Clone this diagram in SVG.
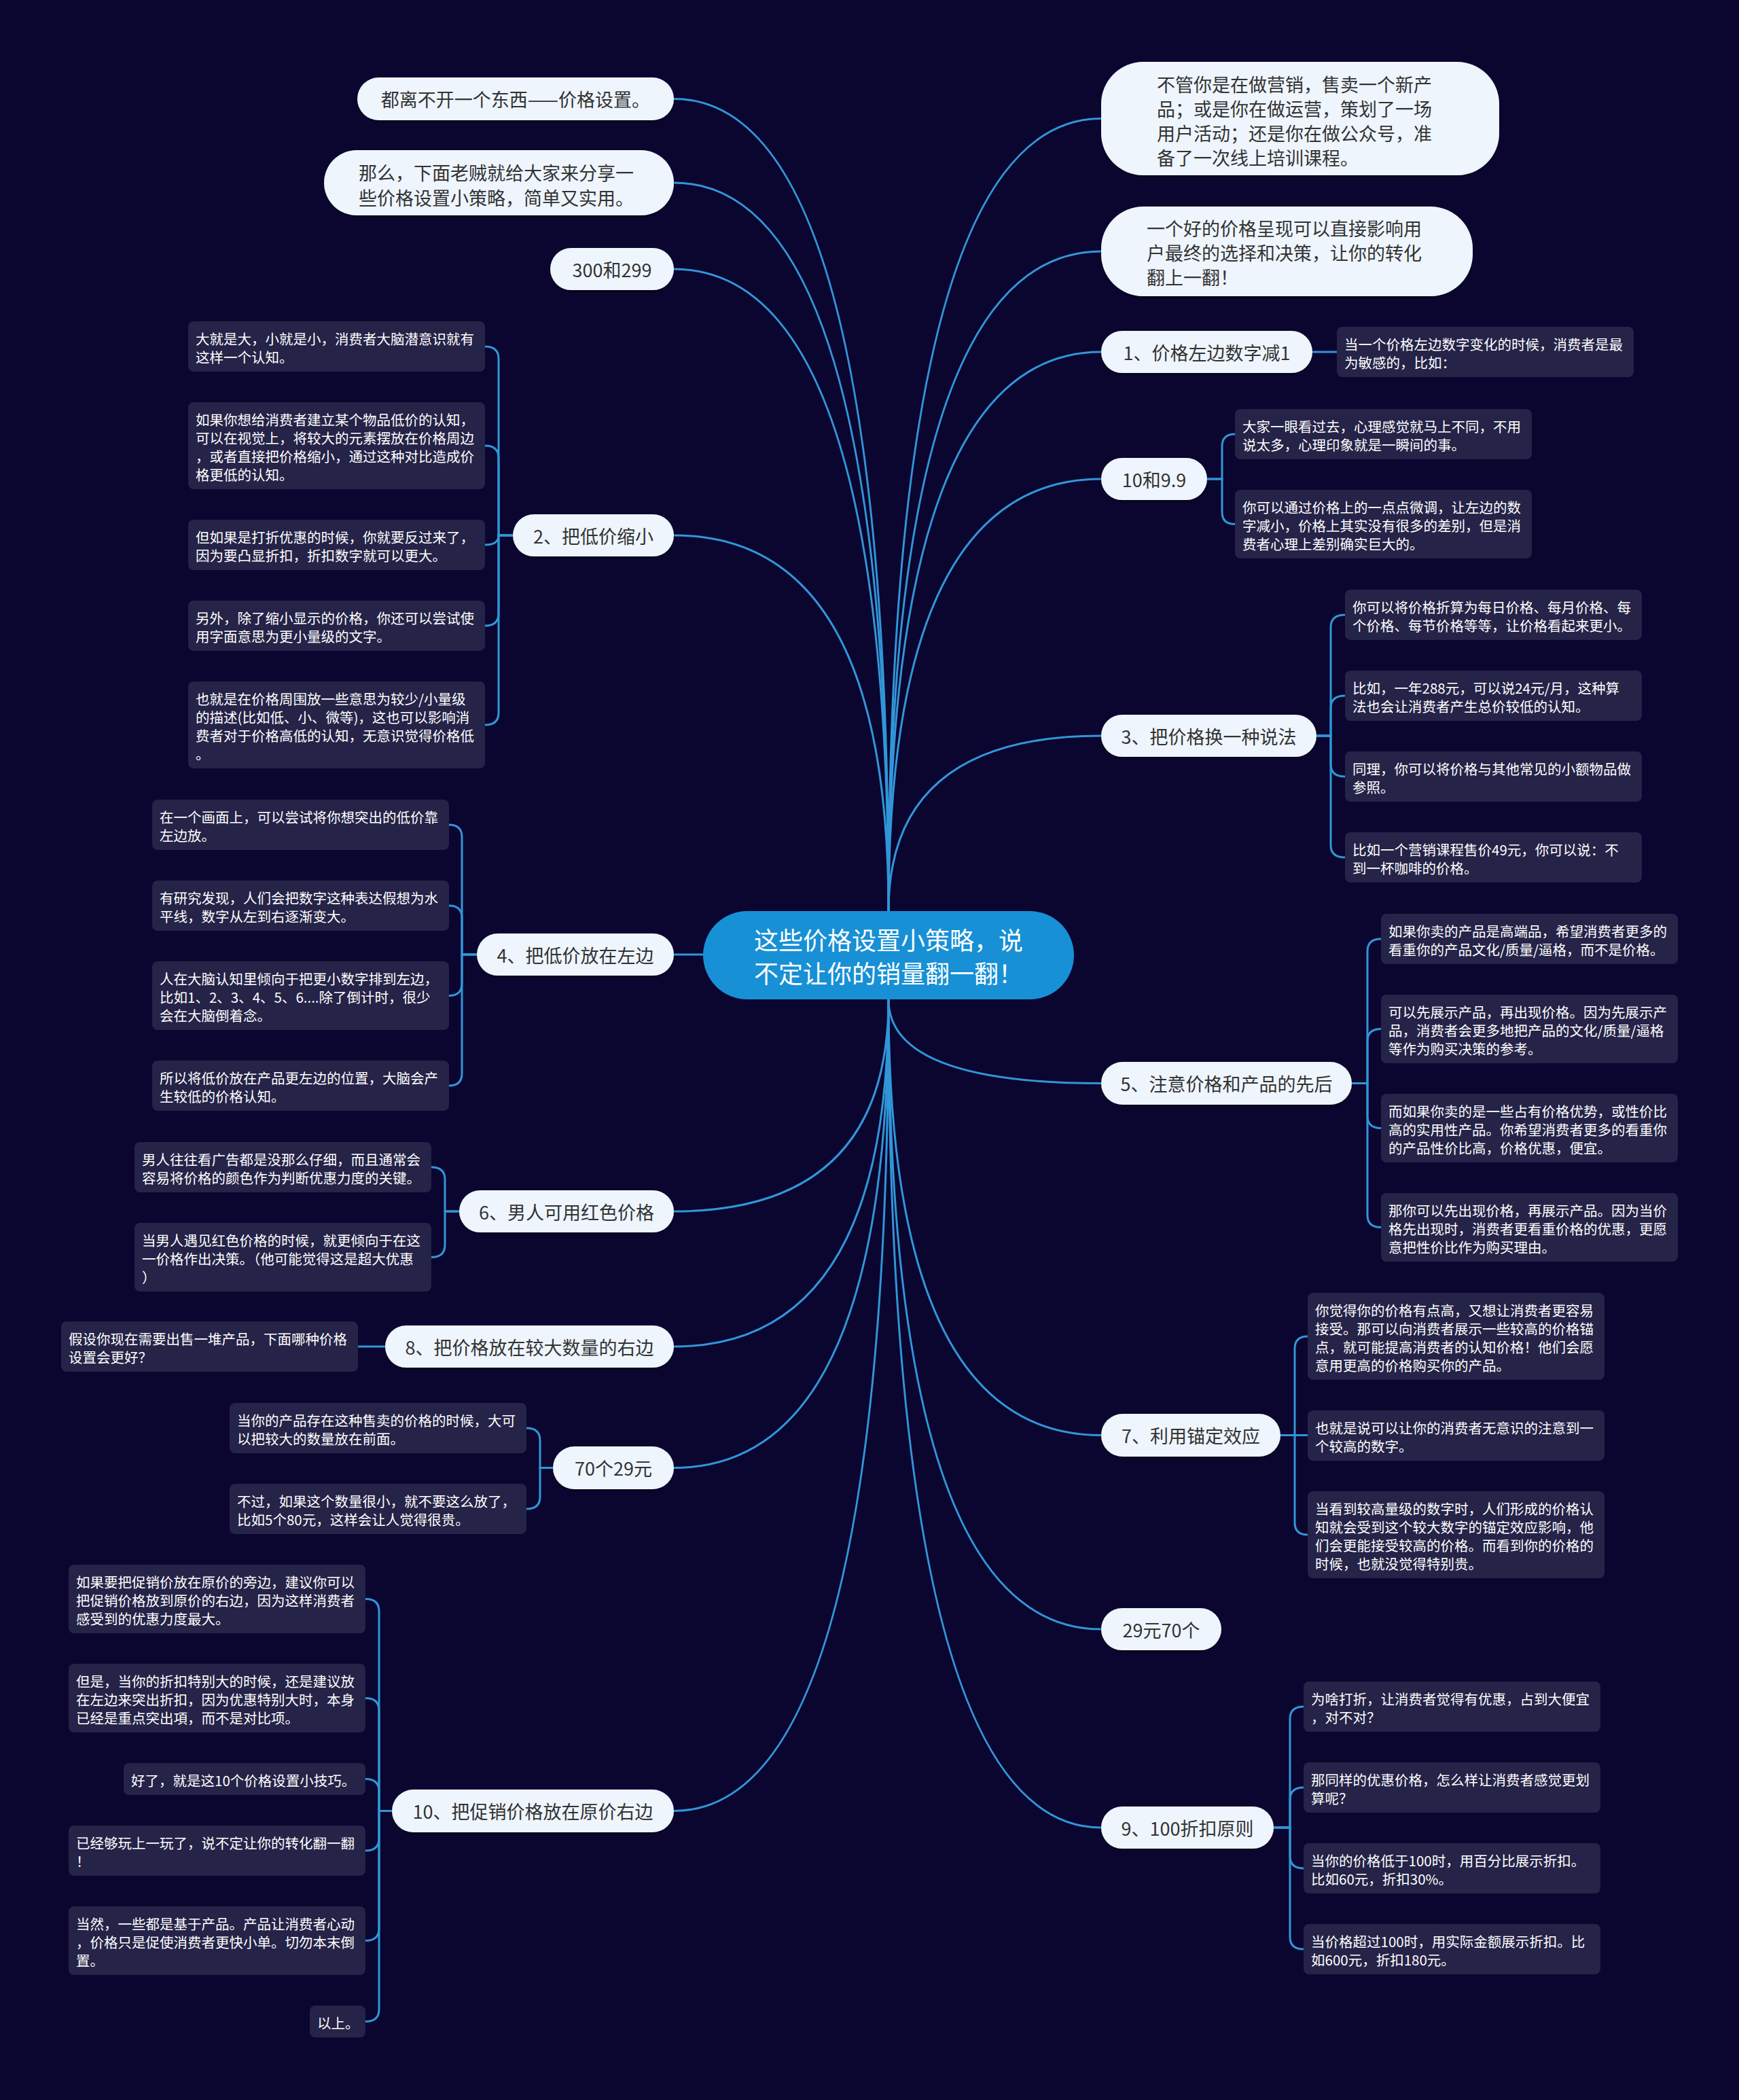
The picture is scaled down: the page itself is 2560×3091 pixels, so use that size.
<svg xmlns="http://www.w3.org/2000/svg" width="2560" height="3091" viewBox="0 0 2560 3091">
<defs>
<style>
.conn{fill:none;stroke:#3196d8;stroke-width:3;stroke-linecap:round}
.main{fill:#eef5fd;filter:url(#sh)}
.mt{font-family:"Noto Sans CJK SC","Noto Sans",sans-serif;font-size:27px;fill:#333;dominant-baseline:central}
.leaf{fill:#252347}
.lt{font-family:"Noto Sans CJK SC","Noto Sans",sans-serif;font-size:20.5px;fill:#ffffff;dominant-baseline:central}
.root{fill:#1890d5}
.rt{font-family:"Noto Sans CJK SC","Noto Sans",sans-serif;font-size:36px;fill:#ffffff;dominant-baseline:central}
.c{text-anchor:middle}
</style>
<filter id="sh" x="-5%" y="-10%" width="110%" height="130%">
<feDropShadow dx="0" dy="2" stdDeviation="1.2" flood-color="#000" flood-opacity="0.6"/>
</filter>
</defs>
<rect x="0" y="0" width="2560" height="3091" fill="#0a0630"/>

<g id="connectors">
<!-- root to main nodes -->
<path class="conn" d="M1308 1341 Q1308 145.5 992 145.5"/>
<path class="conn" d="M1308 1341 Q1308 269 992 269"/>
<path class="conn" d="M1308 1341 Q1308 396 992 396"/>
<path class="conn" d="M1308 1341 Q1308 788 992 788"/>
<path class="conn" d="M1035 1405 H992"/>
<path class="conn" d="M1308 1471 Q1308 1783 992 1783"/>
<path class="conn" d="M1308 1471 Q1308 1982 992 1982"/>
<path class="conn" d="M1308 1471 Q1308 2160.5 992 2160.5"/>
<path class="conn" d="M1308 1471 Q1308 2665.5 992 2665.5"/>
<path class="conn" d="M1308 1341 Q1308 174.5 1621 174.5"/>
<path class="conn" d="M1308 1341 Q1308 370 1621 370"/>
<path class="conn" d="M1308 1341 Q1308 518 1621 518"/>
<path class="conn" d="M1308 1341 Q1308 705 1621 705"/>
<path class="conn" d="M1308 1341 Q1308 1083 1621 1083"/>
<path class="conn" d="M1308 1471 Q1308 1594.5 1621 1594.5"/>
<path class="conn" d="M1308 1471 Q1308 2112.5 1621 2112.5"/>
<path class="conn" d="M1308 1471 Q1308 2398 1621 2398"/>
<path class="conn" d="M1308 1471 Q1308 2690 1621 2690"/>
<!-- node 2 leaves -->
<path class="conn" d="M755 788 H734 V528 Q734 510 714 510"/>
<path class="conn" d="M755 788 H734 V674 Q734 656 714 656"/>
<path class="conn" d="M755 788 H734 Q734 802 714 802"/>
<path class="conn" d="M755 788 H734 V903 Q734 921 714 921"/>
<path class="conn" d="M755 788 H734 V1049 Q734 1067 714 1067"/>
<!-- node 4 leaves -->
<path class="conn" d="M702 1405 H680 V1232 Q680 1214 661 1214"/>
<path class="conn" d="M702 1405 H680 V1351 Q680 1333 661 1333"/>
<path class="conn" d="M702 1405 H680 V1447.5 Q680 1465.5 661 1465.5"/>
<path class="conn" d="M702 1405 H680 V1580 Q680 1598 661 1598"/>
<!-- node 6 leaves -->
<path class="conn" d="M676 1783 H655 V1736 Q655 1718 635 1718"/>
<path class="conn" d="M676 1783 H655 V1832.5 Q655 1850.5 635 1850.5"/>
<!-- node 8 leaf -->
<path class="conn" d="M567 1982 H527"/>
<!-- 70个29元 leaves -->
<path class="conn" d="M814 2160.5 H795 V2120 Q795 2102 775 2102"/>
<path class="conn" d="M814 2160.5 H795 V2203 Q795 2221 775 2221"/>
<!-- node 10 leaves -->
<path class="conn" d="M577 2665.5 H558 V2371.5 Q558 2353.5 538 2353.5"/>
<path class="conn" d="M577 2665.5 H558 V2517.5 Q558 2499.5 538 2499.5"/>
<path class="conn" d="M577 2665.5 H558 V2636.5 Q558 2618.5 538 2618.5"/>
<path class="conn" d="M577 2665.5 H558 V2706 Q558 2724 538 2724"/>
<path class="conn" d="M577 2665.5 H558 V2838.5 Q558 2856.5 538 2856.5"/>
<path class="conn" d="M577 2665.5 H558 V2957.5 Q558 2975.5 538 2975.5"/>
<!-- R3 leaf -->
<path class="conn" d="M1932 518 H1968"/>
<!-- R4 leaves -->
<path class="conn" d="M1777 705 H1799 V657 Q1799 639 1818 639"/>
<path class="conn" d="M1777 705 H1799 V753.5 Q1799 771.5 1818 771.5"/>
<!-- R5 leaves -->
<path class="conn" d="M1938 1083 H1959 V923 Q1959 905 1980 905"/>
<path class="conn" d="M1938 1083 H1959 V1042 Q1959 1024 1980 1024"/>
<path class="conn" d="M1938 1083 H1959 V1125 Q1959 1143 1980 1143"/>
<path class="conn" d="M1938 1083 H1959 V1244 Q1959 1262 1980 1262"/>
<!-- R6 leaves -->
<path class="conn" d="M1990 1594.5 H2013 V1400 Q2013 1382 2033 1382"/>
<path class="conn" d="M1990 1594.5 H2013 V1532.5 Q2013 1514.5 2033 1514.5"/>
<path class="conn" d="M1990 1594.5 H2013 V1642.5 Q2013 1660.5 2033 1660.5"/>
<path class="conn" d="M1990 1594.5 H2013 V1788.5 Q2013 1806.5 2033 1806.5"/>
<!-- R7 leaves -->
<path class="conn" d="M1885 2112.5 H1906 V1985 Q1906 1967 1925 1967"/>
<path class="conn" d="M1885 2112.5 H1925"/>
<path class="conn" d="M1885 2112.5 H1906 V2241 Q1906 2259 1925 2259"/>
<!-- R9 leaves -->
<path class="conn" d="M1875 2690 H1899 V2530 Q1899 2512 1919 2512"/>
<path class="conn" d="M1875 2690 H1899 V2649 Q1899 2631 1919 2631"/>
<path class="conn" d="M1875 2690 H1899 V2732 Q1899 2750 1919 2750"/>
<path class="conn" d="M1875 2690 H1899 V2851 Q1899 2869 1919 2869"/>
</g>

<!-- root -->
<g id="root">
<rect class="root" x="1035" y="1341" width="546" height="130" rx="65"/>
<text class="rt" x="1110" y="1382">这些价格设置小策略，说</text>
<text class="rt" x="1110" y="1431">不定让你的销量翻一翻！</text>
</g>

<!-- left main nodes -->
<g id="L1"><rect class="main" x="526" y="114" width="466" height="63" rx="31.5"/><text class="mt c" x="759" y="145.5">都离不开一个东西——价格设置。</text></g>
<g id="L2"><rect class="main" x="477" y="221" width="515" height="96" rx="48"/><text class="mt" x="528" y="253">那么，下面老贼就给大家来分享一</text><text class="mt" x="528" y="290">些价格设置小策略，简单又实用。</text></g>
<g id="L3"><rect class="main" x="810" y="365" width="182" height="62" rx="31"/><text class="mt c" x="901" y="396">300和299</text></g>
<g id="L4"><rect class="main" x="755" y="757" width="237" height="62" rx="31"/><text class="mt c" x="873.5" y="788">2、把低价缩小</text></g>
<g id="L5"><rect class="main" x="702" y="1374" width="290" height="62" rx="31"/><text class="mt c" x="847" y="1405">4、把低价放在左边</text></g>
<g id="L6"><rect class="main" x="676" y="1752" width="316" height="62" rx="31"/><text class="mt c" x="834" y="1783">6、男人可用红色价格</text></g>
<g id="L7"><rect class="main" x="567" y="1951" width="425" height="62" rx="31"/><text class="mt c" x="779.5" y="1982">8、把价格放在较大数量的右边</text></g>
<g id="L8"><rect class="main" x="814" y="2129" width="178" height="63" rx="31.5"/><text class="mt c" x="903" y="2160.5">70个29元</text></g>
<g id="L9"><rect class="main" x="577" y="2634" width="415" height="63" rx="31.5"/><text class="mt c" x="784.5" y="2665.5">10、把促销价格放在原价右边</text></g>

<!-- right main nodes -->
<g id="R1"><rect class="main" x="1621" y="91" width="586" height="167" rx="62"/><text class="mt" x="1703" y="123">不管你是在做营销，售卖一个新产</text><text class="mt" x="1703" y="159">品；或是你在做运营，策划了一场</text><text class="mt" x="1703" y="195">用户活动；还是你在做公众号，准</text><text class="mt" x="1703" y="231">备了一次线上培训课程。</text></g>
<g id="R2"><rect class="main" x="1621" y="304" width="547" height="132" rx="62"/><text class="mt" x="1688" y="335">一个好的价格呈现可以直接影响用</text><text class="mt" x="1688" y="371">户最终的选择和决策，让你的转化</text><text class="mt" x="1688" y="407">翻上一翻！</text></g>
<g id="R3"><rect class="main" x="1621" y="487" width="311" height="62" rx="31"/><text class="mt c" x="1776.5" y="518">1、价格左边数字减1</text></g>
<g id="R4"><rect class="main" x="1621" y="674" width="156" height="62" rx="31"/><text class="mt c" x="1699" y="705">10和9.9</text></g>
<g id="R5"><rect class="main" x="1621" y="1052" width="317" height="62" rx="31"/><text class="mt c" x="1779.5" y="1083">3、把价格换一种说法</text></g>
<g id="R6"><rect class="main" x="1621" y="1563" width="369" height="63" rx="31.5"/><text class="mt c" x="1805.5" y="1594.5">5、注意价格和产品的先后</text></g>
<g id="R7"><rect class="main" x="1621" y="2081" width="264" height="63" rx="31.5"/><text class="mt c" x="1753" y="2112.5">7、利用锚定效应</text></g>
<g id="R8"><rect class="main" x="1621" y="2367" width="177" height="62" rx="31"/><text class="mt c" x="1709.5" y="2398">29元70个</text></g>
<g id="R9"><rect class="main" x="1621" y="2659" width="254" height="62" rx="31"/><text class="mt c" x="1748" y="2690">9、100折扣原则</text></g>

<!-- node 2 leaves -->
<g id="L4a"><rect class="leaf" x="277" y="473" width="437" height="74" rx="8"/><text class="lt" x="288" y="498">大就是大，小就是小，消费者大脑潜意识就有</text><text class="lt" x="288" y="525">这样一个认知。</text></g>
<g id="L4b"><rect class="leaf" x="277" y="592" width="437" height="128" rx="8"/><text class="lt" x="288" y="617">如果你想给消费者建立某个物品低价的认知，</text><text class="lt" x="288" y="644">可以在视觉上，将较大的元素摆放在价格周边</text><text class="lt" x="288" y="671">，或者直接把价格缩小，通过这种对比造成价</text><text class="lt" x="288" y="698">格更低的认知。</text></g>
<g id="L4c"><rect class="leaf" x="277" y="765" width="437" height="74" rx="8"/><text class="lt" x="288" y="790">但如果是打折优惠的时候，你就要反过来了，</text><text class="lt" x="288" y="817">因为要凸显折扣，折扣数字就可以更大。</text></g>
<g id="L4d"><rect class="leaf" x="277" y="884" width="437" height="74" rx="8"/><text class="lt" x="288" y="909">另外，除了缩小显示的价格，你还可以尝试使</text><text class="lt" x="288" y="936">用字面意思为更小量级的文字。</text></g>
<g id="L4e"><rect class="leaf" x="277" y="1003" width="437" height="128" rx="8"/><text class="lt" x="288" y="1028">也就是在价格周围放一些意思为较少/小量级</text><text class="lt" x="288" y="1055">的描述(比如低、小、微等)，这也可以影响消</text><text class="lt" x="288" y="1082">费者对于价格高低的认知，无意识觉得价格低</text><text class="lt" x="288" y="1109">。</text></g>

<!-- node 4 leaves -->
<g id="L5a"><rect class="leaf" x="224" y="1177" width="437" height="74" rx="8"/><text class="lt" x="235" y="1202">在一个画面上，可以尝试将你想突出的低价靠</text><text class="lt" x="235" y="1229">左边放。</text></g>
<g id="L5b"><rect class="leaf" x="224" y="1296" width="437" height="74" rx="8"/><text class="lt" x="235" y="1321">有研究发现，人们会把数字这种表达假想为水</text><text class="lt" x="235" y="1348">平线，数字从左到右逐渐变大。</text></g>
<g id="L5c"><rect class="leaf" x="224" y="1415" width="437" height="101" rx="8"/><text class="lt" x="235" y="1440">人在大脑认知里倾向于把更小数字排到左边，</text><text class="lt" x="235" y="1467">比如1、2、3、4、5、6....除了倒计时，很少</text><text class="lt" x="235" y="1494">会在大脑倒着念。</text></g>
<g id="L5d"><rect class="leaf" x="224" y="1561" width="437" height="74" rx="8"/><text class="lt" x="235" y="1586">所以将低价放在产品更左边的位置，大脑会产</text><text class="lt" x="235" y="1613">生较低的价格认知。</text></g>

<!-- node 6 leaves -->
<g id="L6a"><rect class="leaf" x="198" y="1681" width="437" height="74" rx="8"/><text class="lt" x="209" y="1706">男人往往看广告都是没那么仔细，而且通常会</text><text class="lt" x="209" y="1733">容易将价格的颜色作为判断优惠力度的关键。</text></g>
<g id="L6b"><rect class="leaf" x="198" y="1800" width="437" height="101" rx="8"/><text class="lt" x="209" y="1825">当男人遇见红色价格的时候，就更倾向于在这</text><text class="lt" x="209" y="1852">一价格作出决策。（他可能觉得这是超大优惠</text><text class="lt" x="209" y="1879">）</text></g>

<!-- node 8 leaf -->
<g id="L7a"><rect class="leaf" x="90" y="1945" width="437" height="74" rx="8"/><text class="lt" x="101" y="1970">假设你现在需要出售一堆产品，下面哪种价格</text><text class="lt" x="101" y="1997">设置会更好？</text></g>

<!-- 70个29元 leaves -->
<g id="L8a"><rect class="leaf" x="338" y="2065" width="437" height="74" rx="8"/><text class="lt" x="349" y="2090">当你的产品存在这种售卖的价格的时候，大可</text><text class="lt" x="349" y="2117">以把较大的数量放在前面。</text></g>
<g id="L8b"><rect class="leaf" x="338" y="2184" width="437" height="74" rx="8"/><text class="lt" x="349" y="2209">不过，如果这个数量很小，就不要这么放了，</text><text class="lt" x="349" y="2236">比如5个80元，这样会让人觉得很贵。</text></g>

<!-- node 10 leaves -->
<g id="L9a"><rect class="leaf" x="101" y="2303" width="437" height="101" rx="8"/><text class="lt" x="112" y="2328">如果要把促销价放在原价的旁边，建议你可以</text><text class="lt" x="112" y="2355">把促销价格放到原价的右边，因为这样消费者</text><text class="lt" x="112" y="2382">感受到的优惠力度最大。</text></g>
<g id="L9b"><rect class="leaf" x="101" y="2449" width="437" height="101" rx="8"/><text class="lt" x="112" y="2474">但是，当你的折扣特别大的时候，还是建议放</text><text class="lt" x="112" y="2501">在左边来突出折扣，因为优惠特别大时，本身</text><text class="lt" x="112" y="2528">已经是重点突出項，而不是对比项。</text></g>
<g id="L9c"><rect class="leaf" x="182" y="2595" width="356" height="47" rx="8"/><text class="lt" x="193" y="2620">好了，就是这10个价格设置小技巧。</text></g>
<g id="L9d"><rect class="leaf" x="101" y="2687" width="437" height="74" rx="8"/><text class="lt" x="112" y="2712">已经够玩上一玩了，说不定让你的转化翻一翻</text><text class="lt" x="112" y="2739">！</text></g>
<g id="L9e"><rect class="leaf" x="101" y="2806" width="437" height="101" rx="8"/><text class="lt" x="112" y="2831">当然，一些都是基于产品。产品让消费者心动</text><text class="lt" x="112" y="2858">，价格只是促使消费者更快小单。切勿本末倒</text><text class="lt" x="112" y="2885">置。</text></g>
<g id="L9f"><rect class="leaf" x="456" y="2952" width="82" height="47" rx="8"/><text class="lt" x="467" y="2977">以上。</text></g>

<!-- R3 leaf -->
<g id="R3a"><rect class="leaf" x="1968" y="481" width="437" height="74" rx="8"/><text class="lt" x="1979" y="506">当一个价格左边数字变化的时候，消费者是最</text><text class="lt" x="1979" y="533">为敏感的，比如：</text></g>

<!-- R4 leaves -->
<g id="R4a"><rect class="leaf" x="1818" y="602" width="437" height="74" rx="8"/><text class="lt" x="1829" y="627">大家一眼看过去，心理感觉就马上不同，不用</text><text class="lt" x="1829" y="654">说太多，心理印象就是一瞬间的事。</text></g>
<g id="R4b"><rect class="leaf" x="1818" y="721" width="437" height="101" rx="8"/><text class="lt" x="1829" y="746">你可以通过价格上的一点点微调，让左边的数</text><text class="lt" x="1829" y="773">字减小，价格上其实没有很多的差别，但是消</text><text class="lt" x="1829" y="800">费者心理上差别确实巨大的。</text></g>

<!-- R5 leaves -->
<g id="R5a"><rect class="leaf" x="1980" y="868" width="437" height="74" rx="8"/><text class="lt" x="1991" y="893">你可以将价格折算为每日价格、每月价格、每</text><text class="lt" x="1991" y="920">个价格、每节价格等等，让价格看起来更小。</text></g>
<g id="R5b"><rect class="leaf" x="1980" y="987" width="437" height="74" rx="8"/><text class="lt" x="1991" y="1012">比如，一年288元，可以说24元/月，这种算</text><text class="lt" x="1991" y="1039">法也会让消费者产生总价较低的认知。</text></g>
<g id="R5c"><rect class="leaf" x="1980" y="1106" width="437" height="74" rx="8"/><text class="lt" x="1991" y="1131">同理，你可以将价格与其他常见的小额物品做</text><text class="lt" x="1991" y="1158">参照。</text></g>
<g id="R5d"><rect class="leaf" x="1980" y="1225" width="437" height="74" rx="8"/><text class="lt" x="1991" y="1250">比如一个营销课程售价49元，你可以说：不</text><text class="lt" x="1991" y="1277">到一杯咖啡的价格。</text></g>

<!-- R6 leaves -->
<g id="R6a"><rect class="leaf" x="2033" y="1345" width="437" height="74" rx="8"/><text class="lt" x="2044" y="1370">如果你卖的产品是高端品，希望消费者更多的</text><text class="lt" x="2044" y="1397">看重你的产品文化/质量/逼格，而不是价格。</text></g>
<g id="R6b"><rect class="leaf" x="2033" y="1464" width="437" height="101" rx="8"/><text class="lt" x="2044" y="1489">可以先展示产品，再出现价格。因为先展示产</text><text class="lt" x="2044" y="1516">品，消费者会更多地把产品的文化/质量/逼格</text><text class="lt" x="2044" y="1543">等作为购买决策的参考。</text></g>
<g id="R6c"><rect class="leaf" x="2033" y="1610" width="437" height="101" rx="8"/><text class="lt" x="2044" y="1635">而如果你卖的是一些占有价格优势，或性价比</text><text class="lt" x="2044" y="1662">高的实用性产品。你希望消费者更多的看重你</text><text class="lt" x="2044" y="1689">的产品性价比高，价格优惠，便宜。</text></g>
<g id="R6d"><rect class="leaf" x="2033" y="1756" width="437" height="101" rx="8"/><text class="lt" x="2044" y="1781">那你可以先出现价格，再展示产品。因为当价</text><text class="lt" x="2044" y="1808">格先出现时，消费者更看重价格的优惠，更愿</text><text class="lt" x="2044" y="1835">意把性价比作为购买理由。</text></g>

<!-- R7 leaves -->
<g id="R7a"><rect class="leaf" x="1925" y="1903" width="437" height="128" rx="8"/><text class="lt" x="1936" y="1928">你觉得你的价格有点高，又想让消费者更容易</text><text class="lt" x="1936" y="1955">接受。那可以向消费者展示一些较高的价格锚</text><text class="lt" x="1936" y="1982">点，就可能提高消费者的认知价格！他们会愿</text><text class="lt" x="1936" y="2009">意用更高的价格购买你的产品。</text></g>
<g id="R7b"><rect class="leaf" x="1925" y="2076" width="437" height="74" rx="8"/><text class="lt" x="1936" y="2101">也就是说可以让你的消费者无意识的注意到一</text><text class="lt" x="1936" y="2128">个较高的数字。</text></g>
<g id="R7c"><rect class="leaf" x="1925" y="2195" width="437" height="128" rx="8"/><text class="lt" x="1936" y="2220">当看到较高量级的数字时，人们形成的价格认</text><text class="lt" x="1936" y="2247">知就会受到这个较大数字的锚定效应影响，他</text><text class="lt" x="1936" y="2274">们会更能接受较高的价格。而看到你的价格的</text><text class="lt" x="1936" y="2301">时候，也就没觉得特别贵。</text></g>

<!-- R9 leaves -->
<g id="R9a"><rect class="leaf" x="1919" y="2475" width="437" height="74" rx="8"/><text class="lt" x="1930" y="2500">为啥打折，让消费者觉得有优惠，占到大便宜</text><text class="lt" x="1930" y="2527">，对不对？</text></g>
<g id="R9b"><rect class="leaf" x="1919" y="2594" width="437" height="74" rx="8"/><text class="lt" x="1930" y="2619">那同样的优惠价格，怎么样让消费者感觉更划</text><text class="lt" x="1930" y="2646">算呢？</text></g>
<g id="R9c"><rect class="leaf" x="1919" y="2713" width="437" height="74" rx="8"/><text class="lt" x="1930" y="2738">当你的价格低于100时，用百分比展示折扣。</text><text class="lt" x="1930" y="2765">比如60元，折扣30%。</text></g>
<g id="R9d"><rect class="leaf" x="1919" y="2832" width="437" height="74" rx="8"/><text class="lt" x="1930" y="2857">当价格超过100时，用实际金额展示折扣。比</text><text class="lt" x="1930" y="2884">如600元，折扣180元。</text></g>
</svg>
